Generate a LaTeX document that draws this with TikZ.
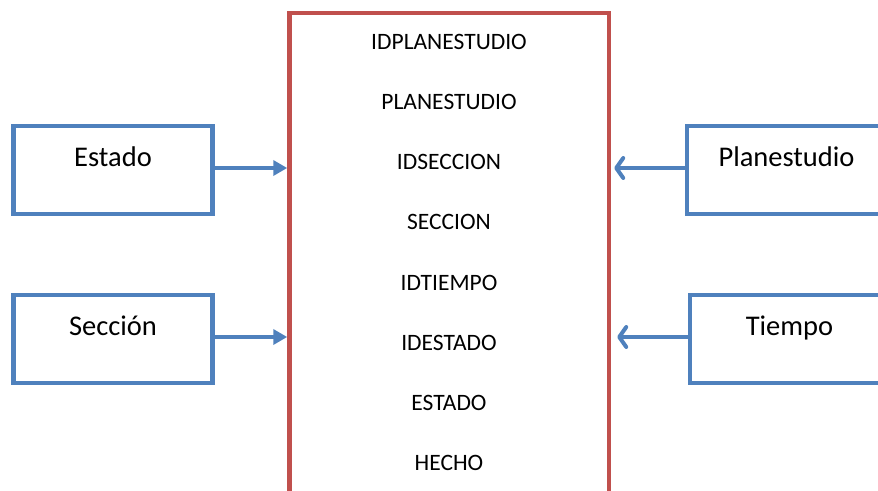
\documentclass[tikz,border=0pt]{standalone}
\usepackage{fontspec}
\setmainfont{Carlito}
\usetikzlibrary{positioning,arrows.meta}
\definecolor{boxblue}{HTML}{4F81BD}
\definecolor{boxred}{HTML}{C0504D}

\begin{document}
\begin{tikzpicture}[x=1pt,y=-1pt,
		dimbox/.style={draw=boxblue,line width=4.5pt,rectangle,inner sep=0pt,minimum width=199pt,text height=40pt,text depth=48pt,font=\fontsize{28.5}{34}\selectfont},
		factbox/.style={draw=boxred,line width=4.5pt,rectangle,inner sep=0pt,minimum width=319.5pt,minimum height=500pt},
		field/.style={font=\fontsize{23.5}{28}\selectfont},
		inarrow/.style={draw=boxblue,line width=4pt,-{Triangle[length=14pt,width=15pt]}},
		outarrow/.style={draw=boxblue,line width=4pt,line cap=round,-{Straight Barb[length=7pt,width=20pt,round]}}]
		\clip (0,0) rectangle (878,490);

		\node[factbox]												(fact)		at (449.25,263)	{};
		\node[dimbox]												(estado)	at (113,170)	{Estado};
		\node[dimbox,node distance=76.5pt,below=of estado]			(seccion)				{Sección};
		\node[dimbox,node distance=470pt,right=of estado]			(plan)					{Planestudio};
		\node[dimbox,node distance=76.5pt,below=of plan,xshift=3pt]	(tiempo)				{Tiempo};

		\foreach \name [count=\i] in {IDPLANESTUDIO,PLANESTUDIO,IDSECCION,SECCION,IDTIEMPO,IDESTADO,ESTADO,HECHO}
			\node[field]	(f\i)	at (449,{42+60.15*(\i-1)})	{\name};

		\draw[inarrow] ([yshift=2pt]estado.east) -- ([yshift=2pt]estado.east -| fact.west);
		\draw[inarrow] ([yshift=2pt]seccion.east) -- ([yshift=2pt]seccion.east -| fact.west);
		\draw[outarrow] ([yshift=2pt]plan.west) -- ([yshift=2pt,xshift=3pt]plan.west -| fact.east);
		\draw[outarrow] ([yshift=2pt]tiempo.west) -- ([yshift=2pt,xshift=6pt]tiempo.west -| fact.east);
	\end{tikzpicture}
\end{document}
